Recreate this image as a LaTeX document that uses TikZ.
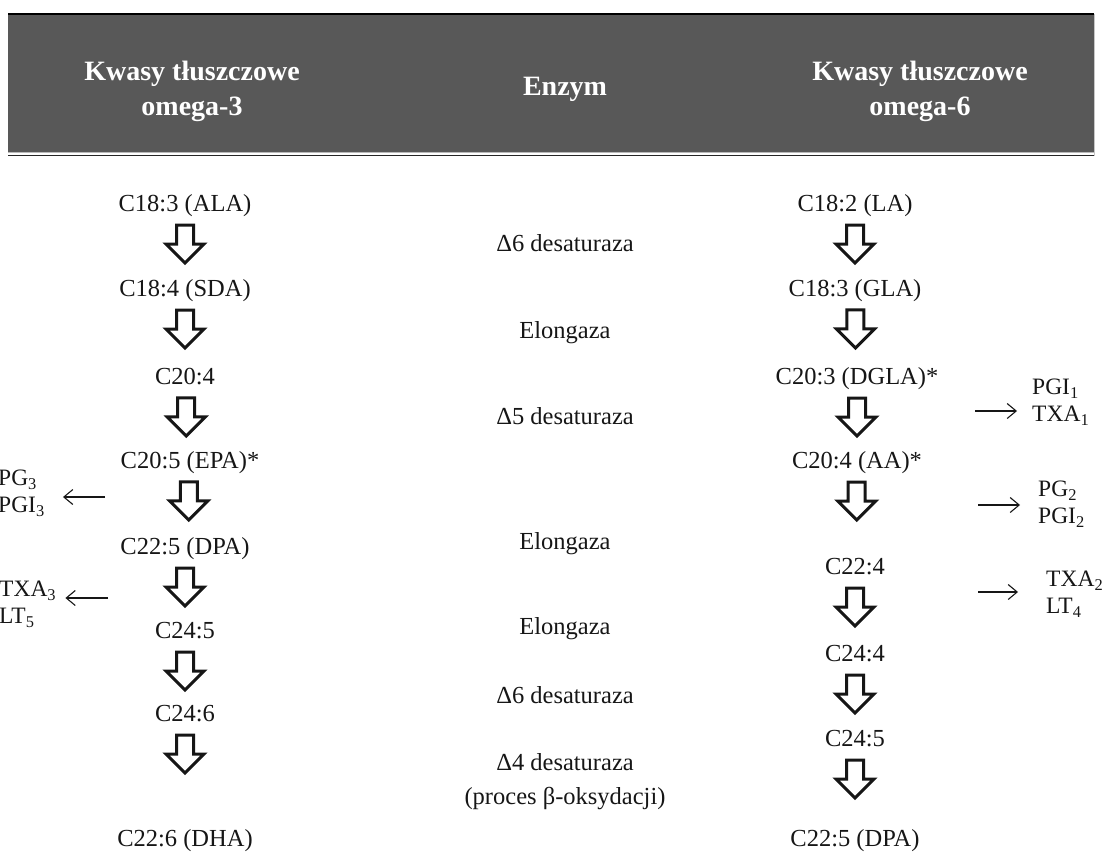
\documentclass[tikz,border=0pt]{standalone}
\usepackage{fontspec}
\setmainfont{Liberation Serif}
\usetikzlibrary{arrows.meta,calc}
\definecolor{headgray}{HTML}{585858}
\definecolor{ink}{HTML}{161616}

% hollow block arrow hanging 20pt below node #1, pointing towards node #2
\newcommand\fatdown[2]{%
  \draw[fat, shift={($(#1)!20pt!(#2)$)}]
    (-8.5,0) -- (8.5,0) -- (8.5,19) -- (19,19) -- (0,38) -- (-19,19) -- (-8.5,19) -- cycle;}

\begin{document}
\begin{tikzpicture}[x=1pt,y=-1pt,
  acid/.style={font=\fontsize{24.5}{29}\selectfont, text=ink, inner sep=0pt,
               text height=17pt, text depth=5pt},
  enzyme/.style={acid},
  head/.style={font=\fontsize{28}{35}\selectfont\bfseries, text=white,
               align=center, inner sep=0pt},
  product/.style={font=\fontsize{23.5}{27}\selectfont, text=ink, align=left,
                  inner sep=0pt},
  thin/.style={draw=ink, line width=1.1pt,
               -{Straight Barb[length=9pt,width=15pt,line width=1.1pt]}},
  fat/.style={draw=ink, line width=3pt, fill=white, line join=miter}]

\useasboundingbox (0,0) rectangle (1102,859);

% header band
\fill[headgray] (8,14) rectangle (1094,152);
\draw[black, line width=2pt] (8,14) -- (1094,14);
\draw[gray!55, line width=1.5pt] (8,152.5) -- (1094,152.5);
\draw[black!85, line width=1.5pt] (8,155.5) -- (1094,155.5);
\draw[gray!45, line width=1pt] (1094,14) -- (1094,155.5);

\node[head] (h3)   at (192,91) {Kwasy tłuszczowe\\omega-3};
\node[head] (henz) at (565,89) {Enzym};
\node[head] (h6)   at (920,91) {Kwasy tłuszczowe\\omega-6};

% omega-3 column
\node[acid] (ala)  at (185,205) {C18:3 (ALA)};
\node[acid] (sda)  at (185,290) {C18:4 (SDA)};
\node[acid] (c204) at (185,378) {C20:4};
\node[acid] (epa)  at (190,462) {C20:5 (EPA)*};
\node[acid] (dpa3) at (185,548) {C22:5 (DPA)};
\node[acid] (c245a) at (185,632) {C24:5};
\node[acid] (c246) at (185,715) {C24:6};
\node[acid] (dha)  at (185,840) {C22:6 (DHA)};

% enzymes
\node[enzyme] (e1) at (565,245) {Δ6 desaturaza};
\node[enzyme] (e2) at (565,332) {Elongaza};
\node[enzyme] (e3) at (565,418) {Δ5 desaturaza};
\node[enzyme] (e4) at (565,543) {Elongaza};
\node[enzyme] (e5) at (565,628) {Elongaza};
\node[enzyme] (e6) at (565,697) {Δ6 desaturaza};
\node[enzyme] (e7) at (565,764) {Δ4 desaturaza};
\node[enzyme] (e8) at (565,798) {(proces β-oksydacji)};

% omega-6 column
\node[acid] (la)   at (855,205) {C18:2 (LA)};
\node[acid] (gla)  at (855,290) {C18:3 (GLA)};
\node[acid] (dgla) at (857,378) {C20:3 (DGLA)*};
\node[acid] (aa)   at (857,462) {C20:4 (AA)*};
\node[acid] (c224) at (855,568) {C22:4};
\node[acid] (c244) at (855,655) {C24:4};
\node[acid] (c245b) at (855,740) {C24:5};
\node[acid] (dpa6) at (855,840) {C22:5 (DPA)};

% block arrows
\fatdown{ala}{sda}
\fatdown{sda}{c204}
\fatdown{c204}{epa}
\fatdown{epa}{dpa3}
\fatdown{dpa3}{c245a}
\fatdown{c245a}{c246}
\fatdown{c246}{dha}
\fatdown{la}{gla}
\fatdown{gla}{dgla}
\fatdown{dgla}{aa}
\fatdown{aa}{c224}
\fatdown{c224}{c244}
\fatdown{c244}{c245b}
\fatdown{c245b}{dpa6}

% eicosanoid products
\node[product, anchor=west] (p1) at (1032,402) {PGI\textsubscript{1}\\TXA\textsubscript{1}};
\node[product, anchor=west] (p2) at (1038,504) {PG\textsubscript{2}\\PGI\textsubscript{2}};
\node[product, anchor=west] (p4) at (1046,594) {TXA\textsubscript{2}\\LT\textsubscript{4}};
\node[product, anchor=west] (p3) at (-2,493) {PG\textsubscript{3}\\PGI\textsubscript{3}};
\node[product, anchor=west] (p5) at (-1,604) {TXA\textsubscript{3}\\LT\textsubscript{5}};

\coordinate (o1) at (975,411);
\coordinate (o2) at (978,505);
\coordinate (o4) at (978,592);
\coordinate (o3) at (105,497);
\coordinate (o5) at (108,598);

\draw[thin, shorten >=15pt] (o1) -- (o1 -| p1.west);
\draw[thin, shorten >=18pt] (o2) -- (o2 -| p2.west);
\draw[thin, shorten >=28pt] (o4) -- (o4 -| p4.west);
\draw[thin] (o3) -- ($(o3 -| p3.east)+(18,0)$);
\draw[thin] (o5) -- ($(o5 -| p5.east)+(9,0)$);

\end{tikzpicture}
\end{document}
